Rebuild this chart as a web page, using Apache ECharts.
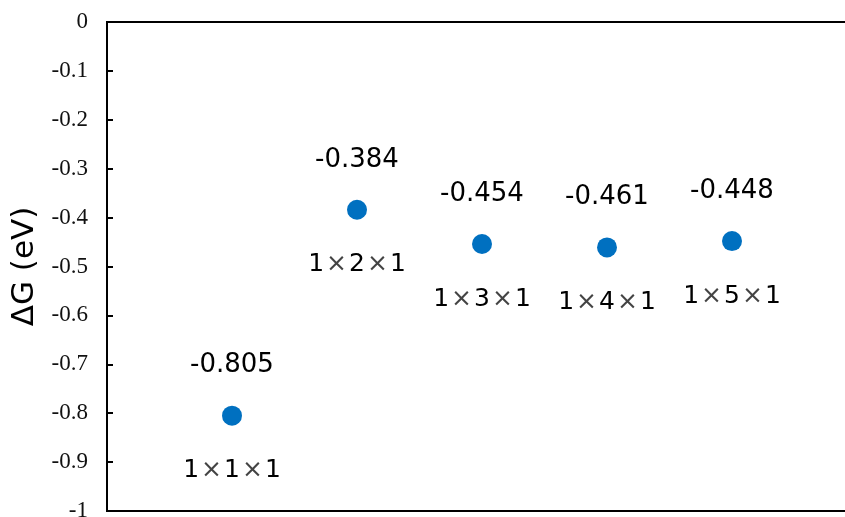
<!DOCTYPE html>
<html>
<head>
<meta charset="utf-8">
<script src="https://cdn.jsdelivr.net/npm/echarts@6/dist/echarts.min.js"></script>
<style>
  html, body { margin: 0; padding: 0; background: #fff; }
  #chart { width: 845px; height: 517px; }
</style>
</head>
<body>
<div id="chart"></div>
<script>
// Supercell sizes and their adsorption free energies
const supercells = ['1×1×1', '1×2×1', '1×3×1', '1×4×1', '1×5×1'];
const supercellPos = [1, 2, 3, 4, 5];
const deltaG = [-0.805, -0.384, -0.454, -0.461, -0.448];

// y-axis range and step
const yMin = -1;
const yMax = 0;
const yStep = 0.1;

const points = supercellPos.map((x, i) => [x, deltaG[i]]);
const namedPoints = supercellPos.map((x, i) => ({ value: [x, deltaG[i]], name: supercells[i] }));

const chart = echarts.init(document.getElementById('chart'), null, { renderer: 'canvas' });

chart.setOption({
  backgroundColor: '#ffffff',
  animation: false,
  grid: {
    left: 107,
    top: 22,
    right: -12,
    bottom: 6,
    show: true,
    borderColor: '#000',
    borderWidth: 2,
    containLabel: false,
    outerBoundsMode: 'none'
  },
  xAxis: {
    type: 'value',
    min: 0,
    max: 6,
    show: false
  },
  yAxis: {
    type: 'value',
    min: yMin,
    max: yMax,
    interval: yStep,
    name: 'ΔG (eV)',
    nameLocation: 'middle',
    nameGap: 62,
    nameTextStyle: {
      fontFamily: 'DejaVu Sans',
      fontSize: 31,
      color: '#000'
    },
    axisLine: { show: true, lineStyle: { color: '#000', width: 2 } },
    axisTick: { show: true, inside: true, length: 6, lineStyle: { color: '#000', width: 2 } },
    axisLabel: {
      margin: 19,
      fontFamily: 'Liberation Serif',
      fontSize: 23,
      color: '#111',
      formatter: v => String(Math.round(v * 10) / 10)
    },
    splitLine: { show: false }
  },
  series: [
    {
      type: 'scatter',
      data: points,
      symbol: 'circle',
      symbolSize: 20,
      silent: true,
      itemStyle: { color: '#0070C0', opacity: 1 },
      label: {
        show: true,
        position: 'top',
        distance: 27,
        fontFamily: 'DejaVu Sans',
        fontSize: 26,
        lineHeight: 26,
        color: '#000',
        formatter: p => p.value[1].toFixed(3)
      },
      z: 3
    },
    {
      type: 'scatter',
      data: namedPoints,
      symbol: 'circle',
      symbolSize: 20,
      silent: true,
      itemStyle: { color: 'rgba(0,0,0,0)', opacity: 0 },
      label: {
        show: true,
        position: 'bottom',
        distance: 32,
        fontFamily: 'DejaVu Sans',
        fontSize: 25,
        lineHeight: 26,
        color: '#000',
        opacity: 1,
        formatter: p => p.name.split('×').join('{x|×}'),
        rich: {
          x: {
            fontFamily: 'DejaVu Sans',
            fontSize: 25,
            lineHeight: 26,
            padding: [0, 2],
            color: '#444'
          }
        }
      },
      z: 2
    }
  ]
});
</script>
</body>
</html>
